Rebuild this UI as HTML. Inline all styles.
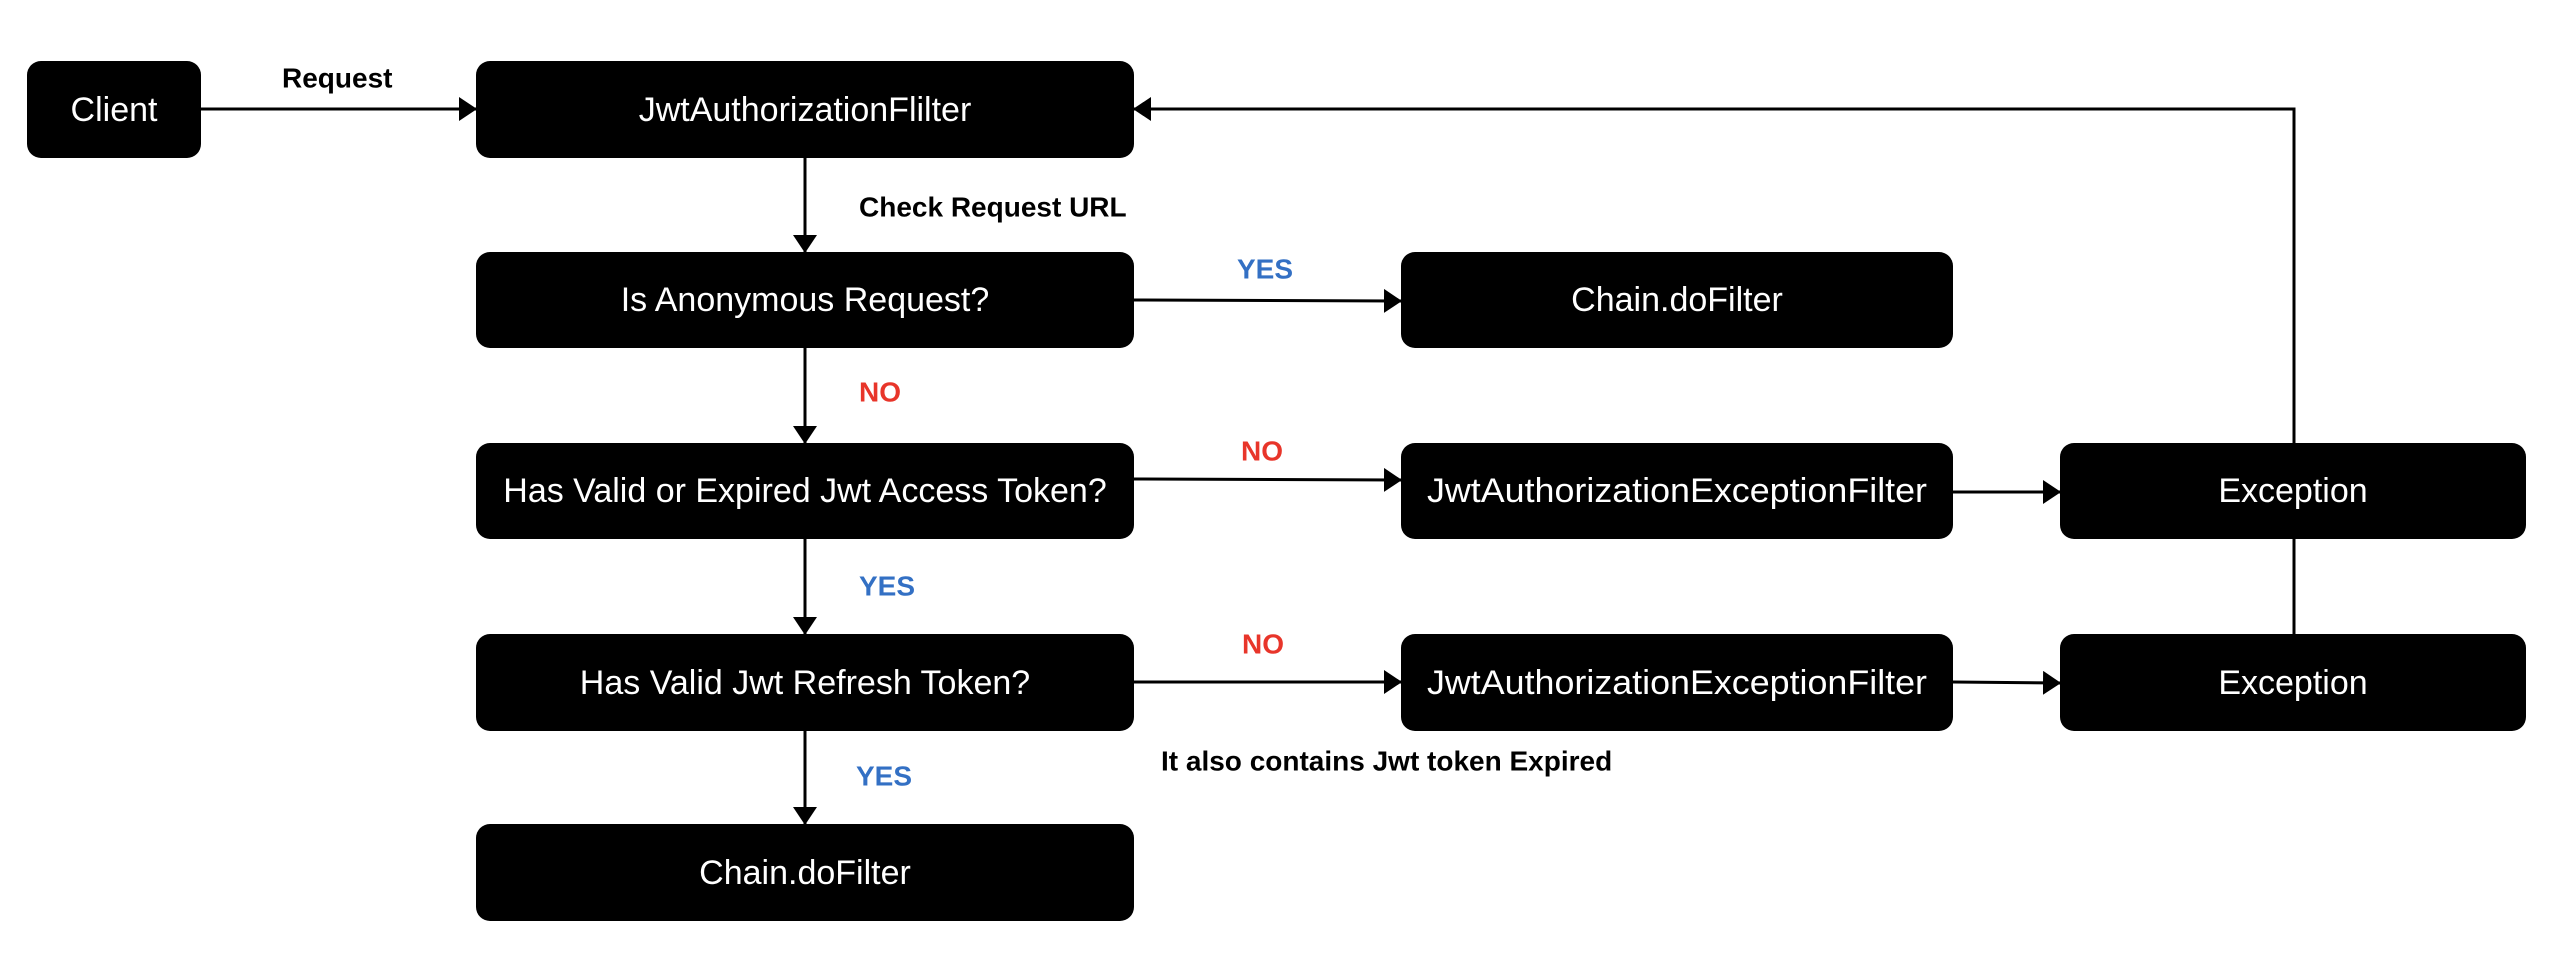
<!DOCTYPE html>
<html><head><meta charset="utf-8"><style>
html,body{margin:0;padding:0;background:#fff;}
svg{display:block;}
text{font-family:"Liberation Sans",sans-serif;}
.bx{fill:#000;}
.t{fill:#fff;font-size:34px;text-anchor:middle;dominant-baseline:central;}
.l{font-size:28px;font-weight:bold;dominant-baseline:central;}
.ln{stroke:#000;stroke-width:3;fill:none;}
</style></head><body>
<svg width="2554" height="980" viewBox="0 0 2554 980" xmlns="http://www.w3.org/2000/svg">
<defs>
<marker id="a" markerWidth="18" markerHeight="24" refX="17" refY="12" orient="auto" markerUnits="userSpaceOnUse">
<path d="M0,0 L18,12 L0,24 Z" fill="#000"/></marker>
</defs>
<rect class="bx" x="27" y="61" width="174" height="97" rx="14"/>
<rect class="bx" x="476" y="61" width="658" height="97" rx="14"/>
<rect class="bx" x="476" y="252" width="658" height="96" rx="14"/>
<rect class="bx" x="476" y="443" width="658" height="96" rx="14"/>
<rect class="bx" x="476" y="634" width="658" height="97" rx="14"/>
<rect class="bx" x="476" y="824" width="658" height="97" rx="14"/>
<rect class="bx" x="1401" y="252" width="552" height="96" rx="14"/>
<rect class="bx" x="1401" y="443" width="552" height="96" rx="14"/>
<rect class="bx" x="1401" y="634" width="552" height="97" rx="14"/>
<rect class="bx" x="2060" y="443" width="466" height="96" rx="14"/>
<rect class="bx" x="2060" y="634" width="466" height="97" rx="14"/>
<text class="t" x="114" y="110">Client</text>
<text class="t" x="805" y="110">JwtAuthorizationFlilter</text>
<text class="t" x="805" y="300">Is Anonymous Request?</text>
<text class="t" x="805" y="491">Has Valid or Expired Jwt Access Token?</text>
<text class="t" x="805" y="683">Has Valid Jwt Refresh Token?</text>
<text class="t" x="805" y="873">Chain.doFilter</text>
<text class="t" x="1677" y="300">Chain.doFilter</text>
<text class="t" x="1677" y="491" textLength="500" lengthAdjust="spacingAndGlyphs">JwtAuthorizationExceptionFilter</text>
<text class="t" x="1677" y="683" textLength="500" lengthAdjust="spacingAndGlyphs">JwtAuthorizationExceptionFilter</text>
<text class="t" x="2293" y="491">Exception</text>
<text class="t" x="2293" y="683">Exception</text>
<line class="ln" x1="201" y1="109" x2="476" y2="109" marker-end="url(#a)"/>
<line class="ln" x1="805" y1="158" x2="805" y2="252" marker-end="url(#a)"/>
<line class="ln" x1="805" y1="348" x2="805" y2="443" marker-end="url(#a)"/>
<line class="ln" x1="805" y1="539" x2="805" y2="634" marker-end="url(#a)"/>
<line class="ln" x1="805" y1="731" x2="805" y2="824" marker-end="url(#a)"/>
<line class="ln" x1="1134" y1="300" x2="1401" y2="301" marker-end="url(#a)"/>
<line class="ln" x1="1134" y1="479" x2="1401" y2="480" marker-end="url(#a)"/>
<line class="ln" x1="1134" y1="682" x2="1401" y2="682" marker-end="url(#a)"/>
<line class="ln" x1="1953" y1="492" x2="2060" y2="492" marker-end="url(#a)"/>
<line class="ln" x1="1953" y1="682" x2="2060" y2="683" marker-end="url(#a)"/>
<line class="ln" x1="2294" y1="539" x2="2294" y2="634"/>
<polyline class="ln" points="2294,443 2294,109 1134,109" marker-end="url(#a)"/>
<text class="l" x="282" y="78">Request</text>
<text class="l" x="859" y="207">Check Request URL</text>
<text class="l" x="859" y="392" fill="#e8352a">NO</text>
<text class="l" x="859" y="586" fill="#3370c4">YES</text>
<text class="l" x="856" y="776" fill="#3370c4">YES</text>
<text class="l" x="1237" y="269" fill="#3370c4">YES</text>
<text class="l" x="1241" y="451" fill="#e8352a">NO</text>
<text class="l" x="1242" y="644" fill="#e8352a">NO</text>
<text class="l" x="1161" y="761">It also contains Jwt token Expired</text>
</svg>
</body></html>
